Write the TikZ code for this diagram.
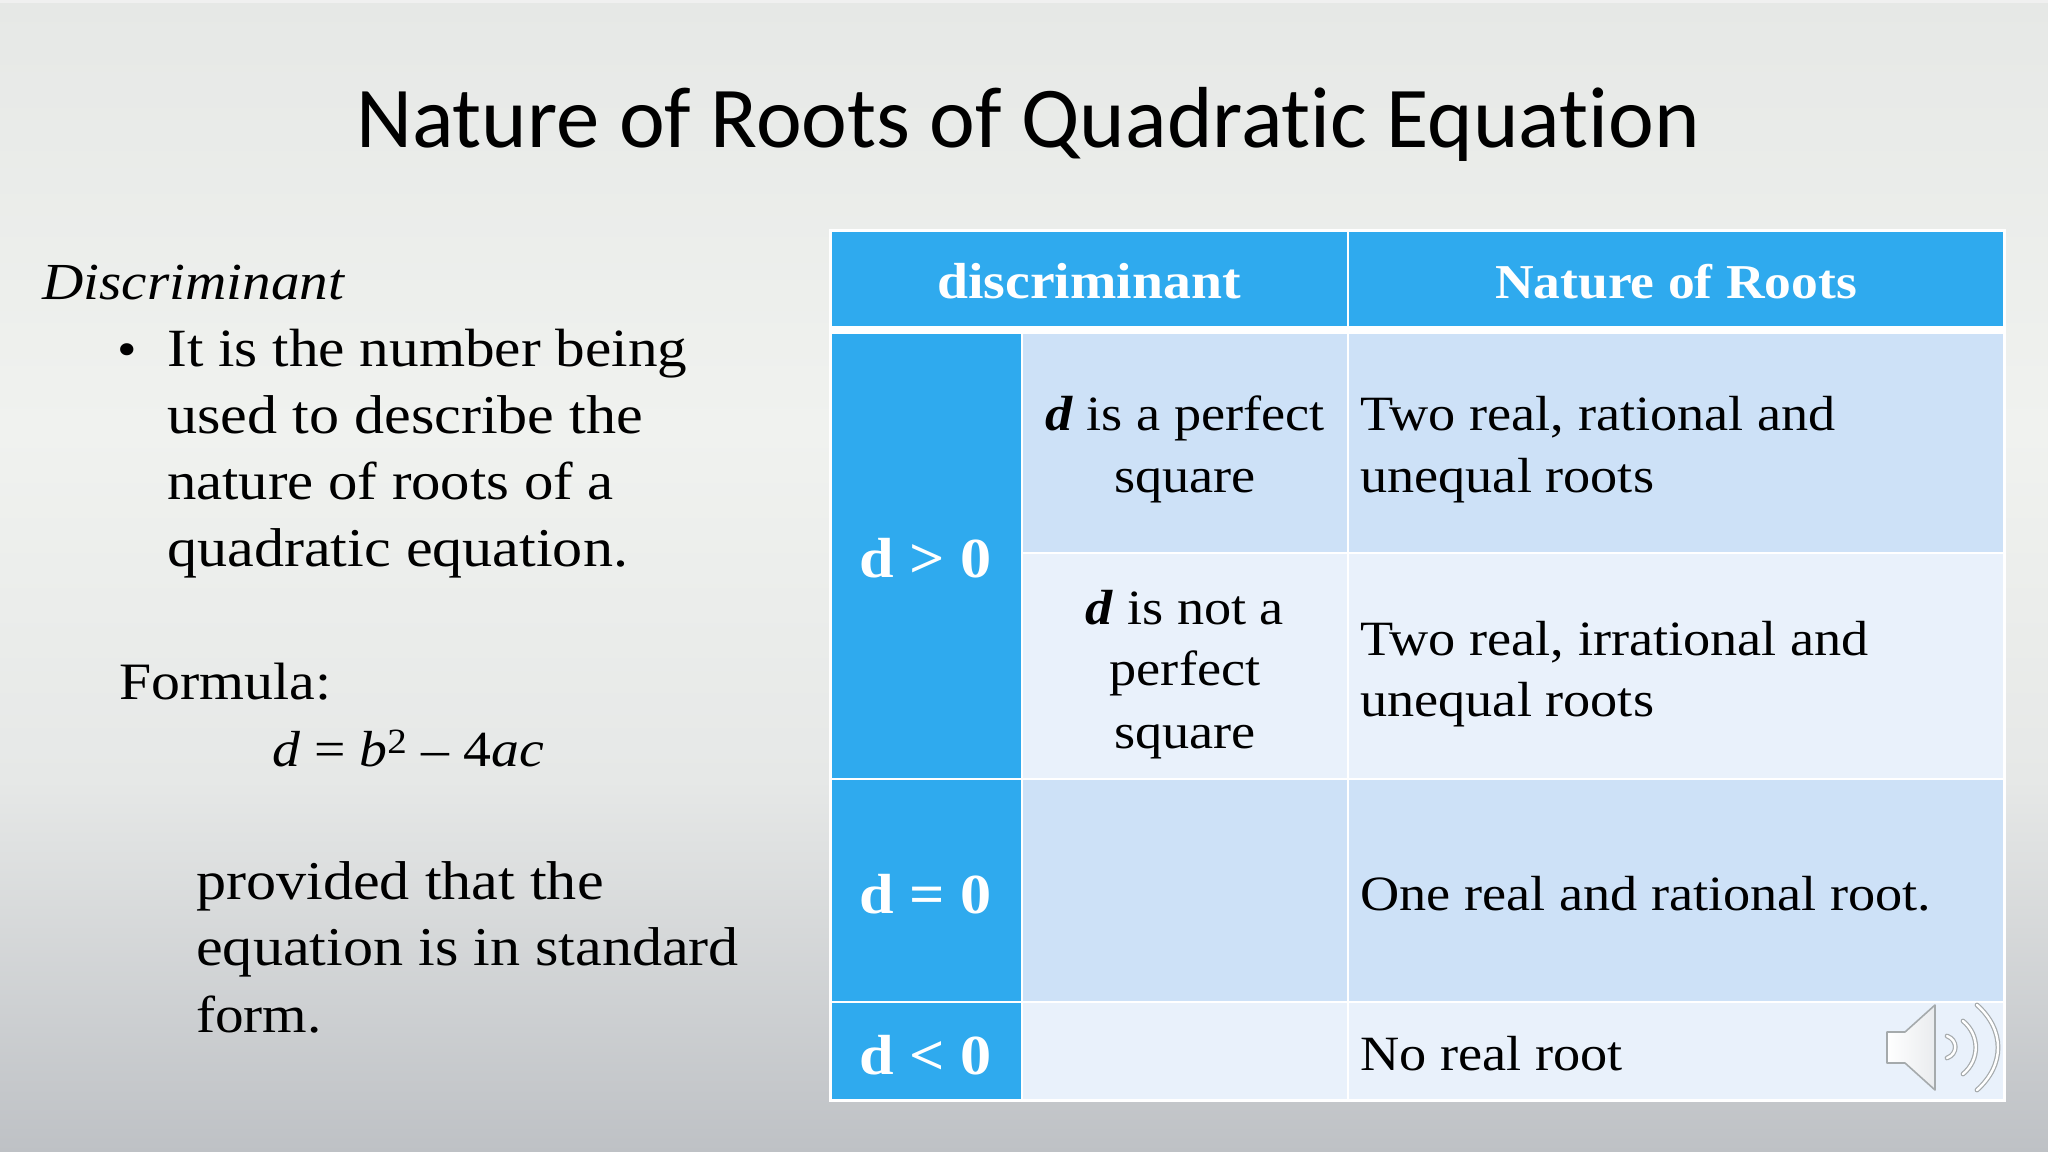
\documentclass[tikz,border=0pt]{standalone}
\usepackage{fontspec}
\setmainfont[FakeStretch=1.10]{Liberation Serif}
\newfontfamily\titlefont[Ligatures=CommonOff]{Carlito}
\usepackage{tikz}

\definecolor{tableblue}{RGB}{47,170,238}
\definecolor{rowdark}{RGB}{205,225,247}
\definecolor{rowlight}{RGB}{233,241,251}
\definecolor{iconedge}{RGB}{165,170,172}

\tikzset{
  bodytext/.style={anchor=base west,inner sep=0pt,align=left,font=\fontsize{41}{50}\selectfont},
  celltext/.style={anchor=base west,inner sep=0pt,align=left,font=\fontsize{37}{46.5}\selectfont},
  midtext/.style={anchor=base,inner sep=0pt,align=center,font=\fontsize{37}{46.5}\selectfont},
  headtext/.style={anchor=base,inner sep=0pt,text=white,font=\fontsize{38}{46.5}\selectfont\bfseries},
  signtext/.style={anchor=base,inner sep=0pt,text=white,font=\fontsize{42.4}{50}\selectfont\bfseries},
  cellrule/.style={draw=white,line width=1.5pt},
}

\begin{document}
\begin{tikzpicture}[x=0.75pt,y=0.75pt,yscale=-1,xscale=1]
\useasboundingbox (0,0) rectangle (2048,1152);

%Background
\fill [top color={rgb,255:red,230;green,232;blue,230},bottom color={rgb,255:red,240;green,242;blue,239}] (0,0) rectangle (2048,430);
\fill [top color={rgb,255:red,240;green,242;blue,239},bottom color={rgb,255:red,230;green,232;blue,231}] (0,430) rectangle (2048,780);
\fill [top color={rgb,255:red,230;green,232;blue,231},bottom color={rgb,255:red,190;green,193;blue,197}] (0,780) rectangle (2048,1152);
\fill [white!60!gray!30] (0,0) rectangle (2048,3);

%Shape: Rectangle [outer edge of the table]
\fill [white] (828.5,229) rectangle (2005.5,1102);
%Header
\draw [cellrule,fill=tableblue] (830.5,231) rectangle (1347.5,326.5);
\draw [cellrule,fill=tableblue] (1347.5,231) rectangle (2003.5,326.5);
%Rows
\draw [cellrule,fill=tableblue] (830.5,333) rectangle (1022,778.5);
\draw [cellrule,fill=tableblue] (830.5,778.5) rectangle (1022,1002);
\draw [cellrule,fill=tableblue] (830.5,1002) rectangle (1022,1100);
\draw [cellrule,fill=rowdark] (1022,333) rectangle (1347.5,552.5);
\draw [cellrule,fill=rowdark] (1347.5,333) rectangle (2003.5,552.5);
\draw [cellrule,fill=rowlight] (1022,552.5) rectangle (1347.5,778.5);
\draw [cellrule,fill=rowlight] (1347.5,552.5) rectangle (2003.5,778.5);
\draw [cellrule,fill=rowdark] (1022,778.5) rectangle (1347.5,1002);
\draw [cellrule,fill=rowdark] (1347.5,778.5) rectangle (2003.5,1002);
\draw [cellrule,fill=rowlight] (1022,1002) rectangle (1347.5,1100);
\draw [cellrule,fill=rowlight] (1347.5,1002) rectangle (2003.5,1100);

% Text Node
\node (title) at (1028,147) [anchor=base,inner sep=0pt,font=\titlefont\fontsize{65}{70}\selectfont] {Nature of Roots of Quadratic Equation};
% Text Node
\node (discriminantword) at (42,299) [bodytext,font=\fontsize{39}{50}\selectfont] {\textit{Discriminant}};
% Text Node
\node (bulletmark) at (127,366) [anchor=base,inner sep=0pt,font=\fontsize{38}{50}\selectfont] {\textbullet};
% Text Node
\node (numbertext1) at (167,366) [bodytext,font=\fontsize{40.4}{50}\selectfont] {It is the number being};
\node (numbertext2) at (167,433) [bodytext] {used to describe the};
\node (numbertext3) at (167,499) [bodytext,font=\fontsize{40}{50}\selectfont] {nature of roots of a};
\node (numbertext4) at (167,566) [bodytext] {quadratic equation.};
% Text Node
\node (formulaword) at (119,699) [bodytext,font=\fontsize{39.4}{50}\selectfont] {Formula:};
% Text Node
\node (formula) at (272,766) [bodytext,font=\fontsize{38}{50}\selectfont] {\textit{d} = \textit{b}\textsuperscript{2} – 4\textit{ac}};
% Text Node
\node (standard1) at (196,899) [bodytext] {provided that the};
\node (standard2) at (196,965) [bodytext] {equation is in standard};
\node (standard3) at (196,1032) [bodytext,font=\fontsize{39}{50}\selectfont] {form.};

% Text Node
\node (headleft) at (1089,298) [headtext] {discriminant};
\node (headright) at (1676,298) [headtext,font=\fontsize{36.5}{46.5}\selectfont\bfseries] {Nature of Roots};
% Text Node
\node (signpos) at (926,577) [signtext] {d > 0};
\node (signzero) at (926,913) [signtext] {d = 0};
\node (signneg) at (926,1074) [signtext] {d < 0};
% Text Node
\node (perfect1) at (1185,430) [midtext] {\textbf{\textit{d}} is a perfect};
\node (perfect2) at (1185,492) [midtext] {square};
\node (notperfect1) at (1185,624) [midtext] {\textbf{\textit{d}} is not a};
\node (notperfect2) at (1185,685) [midtext] {perfect};
\node (notperfect3) at (1185,748) [midtext] {square};
% Text Node
\node (rootsa1) at (1360,430) [celltext] {Two real, rational and};
\node (rootsa2) at (1360,492) [celltext] {unequal roots};
\node (rootsb1) at (1360,655) [celltext] {Two real, irrational and};
\node (rootsb2) at (1360,716) [celltext] {unequal roots};
\node (rootsc) at (1360,910) [celltext] {One real and rational root.};
\node (rootsd) at (1360,1070) [celltext] {No real root};

%Speaker
\draw [iconedge,line width=1.2pt,left color=white,right color=rowlight!70!gray!40,line join=round] (1887,1032) -- (1905,1032) -- (1935,1005) -- (1935,1090) -- (1905,1063) -- (1887,1063) -- cycle;
\draw [iconedge,line width=3.6pt,line cap=round] (1947,1036) .. controls (1958,1040) and (1958,1054) .. (1947,1058);
\draw [white,line width=1.8pt,line cap=round] (1947,1036) .. controls (1958,1040) and (1958,1054) .. (1947,1058);
\draw [iconedge,line width=3.6pt,line cap=round] (1963,1021) .. controls (1980,1035) and (1980,1060) .. (1963,1074);
\draw [white,line width=1.8pt,line cap=round] (1963,1021) .. controls (1980,1035) and (1980,1060) .. (1963,1074);
\draw [iconedge,line width=3.6pt,line cap=round] (1977,1005) .. controls (2005,1030) and (2005,1065) .. (1977,1090);
\draw [white,line width=1.8pt,line cap=round] (1977,1005) .. controls (2005,1030) and (2005,1065) .. (1977,1090);
\end{tikzpicture}
\end{document}
